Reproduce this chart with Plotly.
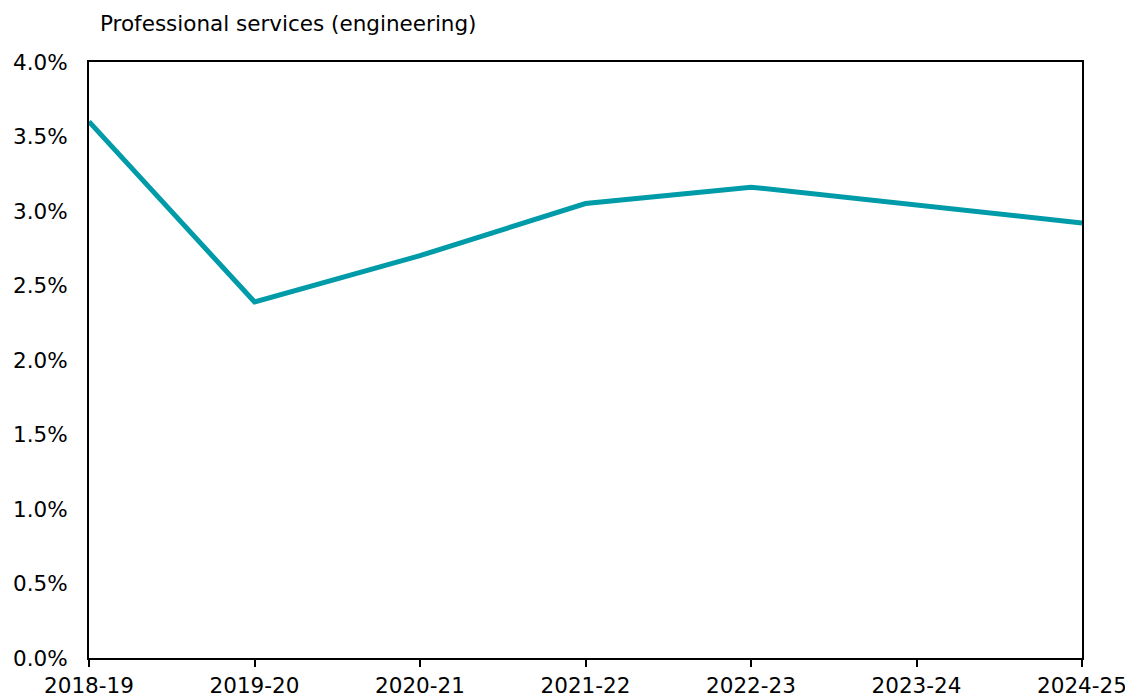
import plotly.graph_objects as go

years = ["2018-19", "2019-20", "2020-21", "2021-22", "2022-23", "2023-24", "2024-25"]
values = [3.60, 2.39, 2.70, 3.05, 3.16, 3.04, 2.92]
ytick_vals = [0, 0.5, 1.0, 1.5, 2.0, 2.5, 3.0, 3.5, 4.0]
ytick_text = ["0.0%", "0.5%", "1.0%", "1.5%", "2.0%", "2.5%", "3.0%", "3.5%", "4.0%"]
title_text = "Professional services (engineering)"

FONT = "DejaVu Sans"
FS = 21.5

# page body has an 8px margin; compensate so the plot lands where the reference has it
W, H = 1125, 689
L, T = 81, 54
PW, PH = 993, 596

fig = go.Figure()
fig.add_trace(go.Scatter(x=years, y=values, mode="lines",
                         line=dict(color="#009BA8", width=5), showlegend=False))

fig.update_layout(
    width=W, height=H,
    margin=dict(l=L, r=W - L - PW, t=T, b=H - T - PH, autoexpand=False),
    paper_bgcolor="white", plot_bgcolor="white",
    font=dict(family=FONT, size=FS, color="black"),
    xaxis=dict(type="category", range=[0, 6], showgrid=False, zeroline=False,
               automargin=False,
               showline=True, linecolor="black", linewidth=2, mirror=True,
               ticks="outside", ticklen=7, tickwidth=2, tickcolor="black",
               ticklabelstandoff=0,
               tickfont=dict(family=FONT, size=FS)),
    yaxis=dict(range=[0, 4], tickvals=ytick_vals, ticktext=ytick_text,
               showgrid=False, zeroline=False, automargin=False,
               showline=True, linecolor="black", linewidth=2, mirror=True,
               ticks="", ticklabelstandoff=15,
               tickfont=dict(family=FONT, size=FS)),
    annotations=[dict(text=title_text, xref="paper", yref="paper",
                      x=(98 - 89) / PW, y=1, yshift=24, xanchor="left", yanchor="bottom",
                      showarrow=False, font=dict(family=FONT, size=FS, color="black"))],
)

fig.write_html("out.html")
